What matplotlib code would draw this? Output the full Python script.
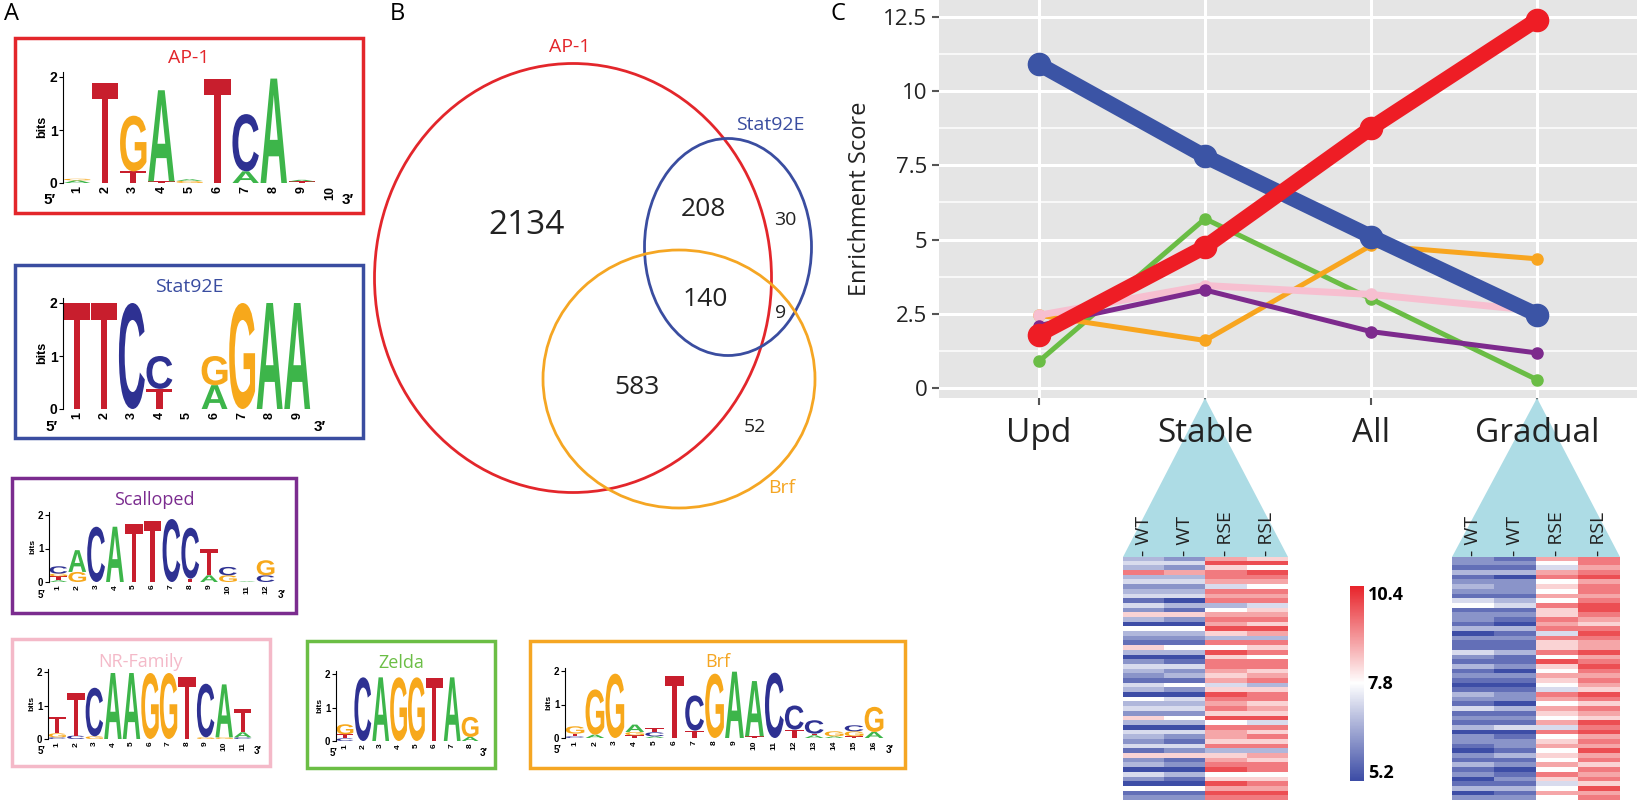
import matplotlib
matplotlib.use("Agg")
import matplotlib.pyplot as plt
import numpy as np
from matplotlib.textpath import TextPath
from matplotlib.font_manager import FontProperties
from matplotlib.patches import PathPatch, Rectangle, Ellipse, Polygon
from matplotlib.transforms import Affine2D
from matplotlib.colors import LinearSegmentedColormap

plt.rcParams['font.family'] = ['Open Sans', 'DejaVu Sans']
W, H = 1637, 800
# ---------------- data ----------------
categories = ["Upd", "Stable", "All", "Gradual"]
blue_vals = [10.9, 7.8, 5.1, 2.47]
red_vals = [1.8, 4.75, 8.75, 12.4]
green_vals = [0.9, 5.7, 3.0, 0.28]
orange_vals = [2.45, 1.6, 4.8, 4.35]
purple_vals = [2.1, 3.3, 1.9, 1.18]
pink_vals = [2.45, 3.45, 3.15, 2.6]
yticks = [0, 2.5, 5, 7.5, 10, 12.5]
ytick_labels = ["0", "2.5", "5", "7.5", "10", "12.5"]

venn_counts = {"ap1_only": 2134, "ap1_stat": 208, "stat_only": 30, "all3": 140,
               "stat_brf": 9, "ap1_brf": 583, "brf_only": 52}

ap1_logo = [[("A", 0.05), ("G", 0.03)], [("T", 1.88)], [("T", 0.22), ("G", 1.05)], [("T", 0.03), ("A", 1.72)],
            [("G", 0.04), ("A", 0.03)], [("T", 1.97)], [("A", 0.22), ("C", 1.08)], [("A", 1.97)],
            [("T", 0.03), ("A", 0.03)], []]
stat_logo = [[("T", 2.0)], [("T", 2.0)], [("C", 2.0)], [("T", 0.38), ("C", 0.62)], [],
             [("A", 0.45), ("G", 0.55)], [("G", 2.0)], [("A", 2.0)], [("A", 2.0)]]
scal_logo = [[("A", 0.05), ("T", 0.12), ("G", 0.08), ("C", 0.22)], [("G", 0.3), ("A", 0.65)], [("C", 1.65)],
             [("A", 1.65)], [("T", 1.72)], [("T", 1.83)], [("C", 1.88)],
             [("T", 0.1), ("C", 1.52)], [("A", 0.2), ("T", 0.78)],
             [("G", 0.2), ("C", 0.25)], [("A", 0.02)], [("C", 0.2), ("G", 0.45)]]
nr_logo = [[("C", 0.05), ("G", 0.12), ("T", 0.5)], [("C", 0.1), ("T", 1.28)], [("G", 0.08), ("C", 1.45)],
           [("A", 1.97)], [("A", 1.97)], [("G", 1.97)], [("G", 1.97)], [("T", 1.85)],
           [("G", 0.05), ("C", 1.6)], [("G", 0.05), ("A", 1.58)], [("C", 0.05), ("A", 0.15), ("T", 0.7)]]
zelda_logo = [[("C", 0.08), ("T", 0.12), ("G", 0.3)], [("C", 1.9)], [("A", 1.9)], [("G", 1.9)],
              [("G", 1.9)], [("T", 1.88)], [("A", 1.9)], [("A", 0.12), ("G", 0.6)]]
brf_logo = [[("C", 0.05), ("T", 0.08), ("G", 0.22)], [("A", 0.1), ("G", 1.35)], [("G", 1.92)],
            [("T", 0.08), ("G", 0.1), ("A", 0.22)], [("A", 0.05), ("C", 0.12), ("T", 0.12)], [("T", 1.85)],
            [("T", 0.22), ("C", 1.05)], [("G", 1.92)], [("A", 1.98)], [("T", 0.05), ("A", 1.65)], [("C", 1.95)],
            [("T", 0.25), ("C", 0.72)], [("A", 0.08), ("T", 0.05), ("C", 0.4)], [("A", 0.05), ("G", 0.15)],
            [("T", 0.05), ("G", 0.15), ("C", 0.18)], [("A", 0.18), ("G", 0.75)]]

# heatmap rows encoded as digits 0..9 (5.2 .. 10.4), one string per column
stable_hm = ["3438342341426305321630243214305342630432416230420512",
             "2427342340316205321530142315204342530421426120310512",
             "7968874878357879638596887674698786958776836789569798",
             "6959875878467869738685886783688676948686837688568798"]
gradual_hm = ["2213123214512213021142131210132141213022102131201302",
              "1213022213412103121131120210122031214012213120121312",
              "7547856575866878486685965765487576574856756575864575",
              "8878978878998768987797898787698687698978797868786978"]

# ---------------- figure ----------------
fig = plt.figure(figsize=(W / 100, H / 100), dpi=100)
fig.patch.set_facecolor("white")

def fax(x0, y0, x1, y1, **kw):
    return fig.add_axes([x0 / W, 1 - y1 / H, (x1 - x0) / W, (y1 - y0) / H], **kw)

colA, colC, colG, colT = "#3DB54A", "#2E3192", "#F7A81B", "#C81E2D"
lcol = {"A": colA, "C": colC, "G": colG, "T": colT}
fp = FontProperties(family="Liberation Sans", weight="bold")

def draw_logo(x0, x1, ybase, unit, stacks, fs=7):
    n = len(stacks)
    ax = fax(x0, ybase - 2.1 * unit, x1, ybase)
    for i, st in enumerate(stacks):
        yb = 0
        for letter, h in st:
            tp = TextPath((0, 0), letter, size=1, prop=fp)
            bb = tp.get_extents()
            tr = Affine2D().translate(-bb.x0, -bb.y0).scale(0.94 / bb.width, h / bb.height).translate(i + 1 - 0.47, yb)
            ax.add_patch(PathPatch(tr.transform_path(tp), color=lcol[letter], lw=0))
            yb += h
    ax.set_xlim(0.5, n + 0.5)
    ax.set_ylim(0, 2.1)
    ax.set_yticks([0, 1, 2])
    ax.set_xticks(range(1, n + 1))
    ax.tick_params(axis="y", labelsize=fs + 1, length=3, pad=1)
    ax.tick_params(axis="x", labelsize=fs, length=0, pad=2, labelrotation=90)
    for lab in ax.get_xticklabels() + ax.get_yticklabels():
        lab.set_fontweight("bold")
        lab.set_family("Liberation Sans")
    ax.set_ylabel("bits", fontsize=fs, fontweight="bold", labelpad=1, family="Liberation Sans")
    for s in ["top", "right", "bottom"]:
        ax.spines[s].set_visible(False)
    ax.patch.set_alpha(0)
    return ax

draw_logo(63, 344, 183, 53, ap1_logo, 9)
draw_logo(63, 311, 409, 53, stat_logo, 9)
draw_logo(49, 275, 582, 33.5, scal_logo, 6)
draw_logo(48, 252, 739, 33.5, nr_logo, 6)
draw_logo(336, 479, 741, 33.5, zelda_logo, 6)
draw_logo(565, 884, 738, 33.5, brf_logo, 6)

# ---------------- line chart ----------------
px0, px_step = 1039, 166
y0px, yunit = 388, 29.7
lx0, lx1, ly0, ly1 = 939, 1637, 0, 398
ax = fax(lx0, ly0, lx1, ly1)
ax.set_facecolor("#E5E5E5")
x = np.arange(len(categories))
series = [(green_vals, "#6ABD45", 3.6, 8), (orange_vals, "#F8A51F", 3.6, 8),
          (pink_vals, "#F7BFD0", 5, 8), (purple_vals, "#7D2A8D", 3.6, 8),
          (blue_vals, "#3B54A5", 11, 16), (red_vals, "#EE1D25", 11, 16)]
for vals, c, lw, ms in series:
    ax.plot(x, vals, color=c, lw=lw, marker="o", ms=ms, solid_capstyle="round", zorder=3)
ax.set_xlim((lx0 - px0) / px_step, (lx1 - px0) / px_step)
ax.set_ylim((y0px - ly1) / yunit, (y0px - ly0) / yunit)
ax.set_yticks(yticks)
ax.set_yticklabels(ytick_labels, fontsize=16, color="#222222")
ax.set_yticks(np.arange(1.25, 12.6, 2.5), minor=True)
ax.set_xticks(x)
ax.set_xticklabels([""] * 4)
ax.grid(True, which="major", color="white", lw=2.2)
ax.grid(True, which="minor", axis="y", color="white", lw=1.1)
ax.set_axisbelow(True)
ax.tick_params(which="minor", length=0)
ax.tick_params(color="#555555", length=5, width=1.5)
for s in ax.spines.values():
    s.set_visible(False)
ax.set_ylabel("Enrichment Score", fontsize=17, color="#222222", labelpad=8)

# ---------------- heatmaps ----------------
cmap = LinearSegmentedColormap.from_list("bwr2", ["#3D4DA6", "#FFFFFF", "#E8232A"])
def to_arr(cols):
    return np.array([[5.2 + int(ch) * 0.52 for ch in c] for c in cols]).T
for hm, (hx0, hx1) in [(stable_hm, (1123, 1288)), (gradual_hm, (1452, 1620))]:
    hax = fax(hx0, 557, hx1, 800)
    hax.imshow(to_arr(hm), cmap=cmap, vmin=5.2, vmax=10.4, aspect="auto", interpolation="nearest")
    hax.set_xticks([]); hax.set_yticks([])
    for s in hax.spines.values():
        s.set_visible(False)
cax = fax(1350, 586, 1364, 781)
grad = np.linspace(10.4, 5.2, 200).reshape(-1, 1)
cax.imshow(grad, cmap=cmap, vmin=5.2, vmax=10.4, aspect="auto")
cax.set_xticks([]); cax.set_yticks([])
for s in cax.spines.values():
    s.set_visible(False)

# ---------------- overlay ----------------
ov = fax(0, 0, W, H)
ov.set_xlim(0, W); ov.set_ylim(H, 0); ov.axis("off"); ov.patch.set_alpha(0)

for t, xx in [("A", 4), ("B", 390), ("C", 830)]:
    ov.text(xx, 14, t, fontsize=17, va="center", ha="left")

boxes = [((15, 38, 363, 213), "#E3262B", "AP-1", 58, 14), ((15, 265, 363, 438), "#3A4DA0", "Stat92E", 287, 14),
         ((12, 478, 296, 613), "#7B2C8F", "Scalloped", 500, 13), ((12, 639, 270, 766), "#F4B9C8", "NR-Family", 662, 13),
         ((307, 641, 495, 768), "#6BBE45", "Zelda", 663, 13), ((530, 641, 905, 768), "#F5A623", "Brf", 662, 13)]
for (bx0, by0, bx1, by1), c, lab, ty, fs in boxes:
    ov.add_patch(Rectangle((bx0, by0), bx1 - bx0, by1 - by0, fill=False, ec=c, lw=2.5))
    ov.text((bx0 + bx1) / 2, ty, lab, color=c, fontsize=fs, ha="center", va="center")
for (bx, by, t, fs) in [(50, 200, "5′", 11), (348, 200, "3′", 11), (52, 427, "5′", 11), (320, 427, "3′", 11),
                        (42, 595, "5′", 7), (282, 595, "3′", 7), (42, 751, "5′", 7), (258, 751, "3′", 7),
                        (334, 753, "5′", 7), (484, 753, "3′", 7), (558, 750, "5′", 7), (890, 750, "3′", 7)]:
    ov.text(bx, by, t, fontsize=fs, fontweight="bold", ha="center", va="center", family="Liberation Sans")

# Venn
ov.add_patch(Ellipse((573, 278), 397, 429, fill=False, ec="#E3262B", lw=2))
ov.add_patch(Ellipse((728, 247), 167, 217, fill=False, ec="#3A4DA0", lw=2))
ov.add_patch(Ellipse((679, 379), 272, 258, fill=False, ec="#F5A623", lw=2))
ov.text(570, 47, "AP-1", color="#E3262B", fontsize=14, ha="center", va="center")
ov.text(770, 125, "Stat92E", color="#3A4DA0", fontsize=14, ha="center", va="center")
ov.text(782, 488, "Brf", color="#F5A623", fontsize=14, ha="center", va="center")
for key, (vx, vy, fs) in {"ap1_only": (527, 225, 24), "ap1_stat": (703, 210, 19),
                          "stat_only": (785, 220, 14), "all3": (705, 300, 19),
                          "stat_brf": (781, 313, 14), "ap1_brf": (637, 388, 19),
                          "brf_only": (755, 427, 14)}.items():
    ov.text(vx, vy, str(venn_counts[key]), fontsize=fs, ha="center", va="center", color="#222222")

# triangles and heatmap labels
for cx, (tx0, tx1) in [(px0 + px_step, (1123, 1288)), (px0 + 3 * px_step, (1452, 1620))]:
    ov.add_patch(Polygon([(cx, 398), (tx0, 557), (tx1, 557)], closed=True, fc="#ADDCE5", ec="none"))
    cw = (tx1 - tx0) / 4
    for j, lab in enumerate(["- WT", "- WT", "- RSE", "- RSL"]):
        ov.text(tx0 + cw * (j + 0.5), 556, lab, rotation=90, fontsize=14, ha="center", va="bottom", color="#222222")
for i, lab in enumerate(categories):
    ov.text(px0 + px_step * i, 434, lab, fontsize=24, ha="center", va="center", color="#222222")
for v, vy in [("10.4", 595), ("7.8", 684), ("5.2", 773)]:
    ov.text(1368, vy, v, fontsize=13, fontweight="bold", ha="left", va="center")

fig.savefig("out.png", dpi=100)
